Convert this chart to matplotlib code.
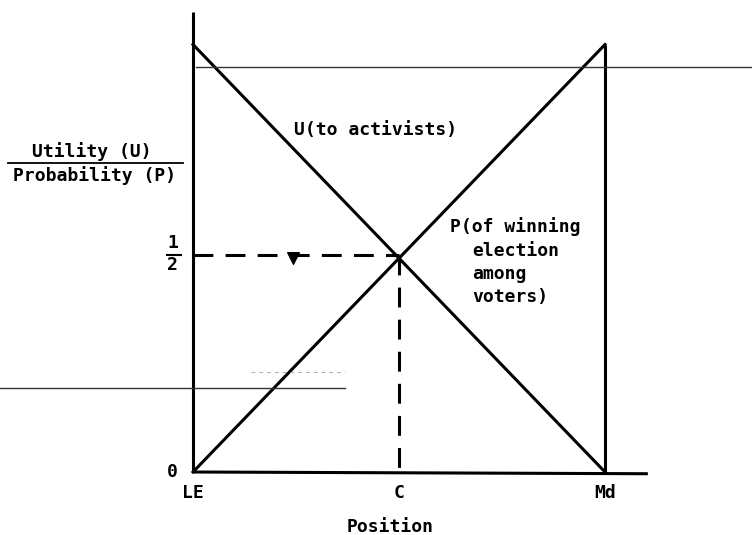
import matplotlib
matplotlib.use("Agg")
import matplotlib.pyplot as plt

# positions along the x axis (LE, C, Md) and the two curves
positions = [0.0, 0.5, 1.0]
pos_labels = ["LE", "C", "Md"]
utility = [1.0, 0.0]        # U(to activists), from LE to Md
probability = [0.0, 1.0]    # P(of winning election among voters)
line_x = [0.0, 1.0]
half = 0.5

fig = plt.figure(figsize=(7.52, 5.35), dpi=100)
ax = fig.add_axes([0, 0, 1, 1])
# map data coords onto the page: x 0..1 -> px 193..605, y 0..1 -> px 472..38
ax.set_xlim(-193 / 412, (752 - 193) / 412)
ax.set_ylim((472 - 535) / 434, 472 / 434)
ax.axis("off")

ink = "black"
font = dict(family="DejaVu Sans Mono", fontweight="bold", fontsize=13, color=ink)


def py(v):
    # pixel row (from top) -> data y
    return (472 - v) / 434


# axes of the diagram
ax.plot([0, 0], [0, py(12)], color=ink, lw=2.2, solid_capstyle="butt")
ax.plot([0, 1.104], [0, -0.004], color=ink, lw=2.2, solid_capstyle="butt")
ax.plot([1, 1], [-0.004, 0.985], color=ink, lw=2.2, solid_capstyle="butt")

# the two curves
ax.plot(line_x, [u * 0.985 for u in utility], color=ink, lw=2.2)
ax.plot(line_x, [p * 0.985 for p in probability], color=ink, lw=2.2)

# dashed guides to the crossing point
ax.plot([0, positions[1]], [half, half], color=ink, lw=2.2, dashes=(6.5, 4))
ax.plot([positions[1], positions[1]], [half, 0], color=ink, lw=2.2, dashes=(6.5, 4))

# scan lines
ax.plot([0.007, 1.36], [py(67)] * 2, color="#333333", lw=1.0)
ax.plot([-0.47, 0.37], [py(388)] * 2, color="#333333", lw=1.0)
ax.plot([0.14, 0.37], [py(372)] * 2, color="#aaaaaa", lw=0.7, dashes=(4, 4))
ax.scatter([0.243], [py(258)], s=70, color=ink, marker="v")

# curve labels
ax.text(0.245, py(130), "U(to activists)", ha="left", va="center", **font)
ax.text(0.624, py(227), "P(of winning", ha="left", va="center", **font)
ax.text(0.677, py(251), "election", ha="left", va="center", **font)
ax.text(0.677, py(274), "among", ha="left", va="center", **font)
ax.text(0.677, py(297), "voters)", ha="left", va="center", **font)

# y axis label as a fraction
ax.text(-0.245, py(152), "Utility (U)", ha="center", va="center", **font)
ax.plot([-0.449, -0.024], [py(163)] * 2, color=ink, lw=1.3)
ax.text(-0.238, py(176), "Probability (P)", ha="center", va="center", **font)

# y ticks
ax.text(-0.05, py(243), "1", ha="center", va="center", **font)
ax.plot([-0.064, -0.03], [half, half], color=ink, lw=1.5)
ax.text(-0.05, py(265), "2", ha="center", va="center", **font)
ax.text(-0.05, 0, "0", ha="center", va="center", **font)

# x tick labels
for p, lab in zip(positions, pos_labels):
    ax.text(p, py(493), lab, ha="center", va="center", **font)
ax.text(0.478, py(527), "Position", ha="center", va="center", **font)

fig.savefig("out.png", dpi=100)
